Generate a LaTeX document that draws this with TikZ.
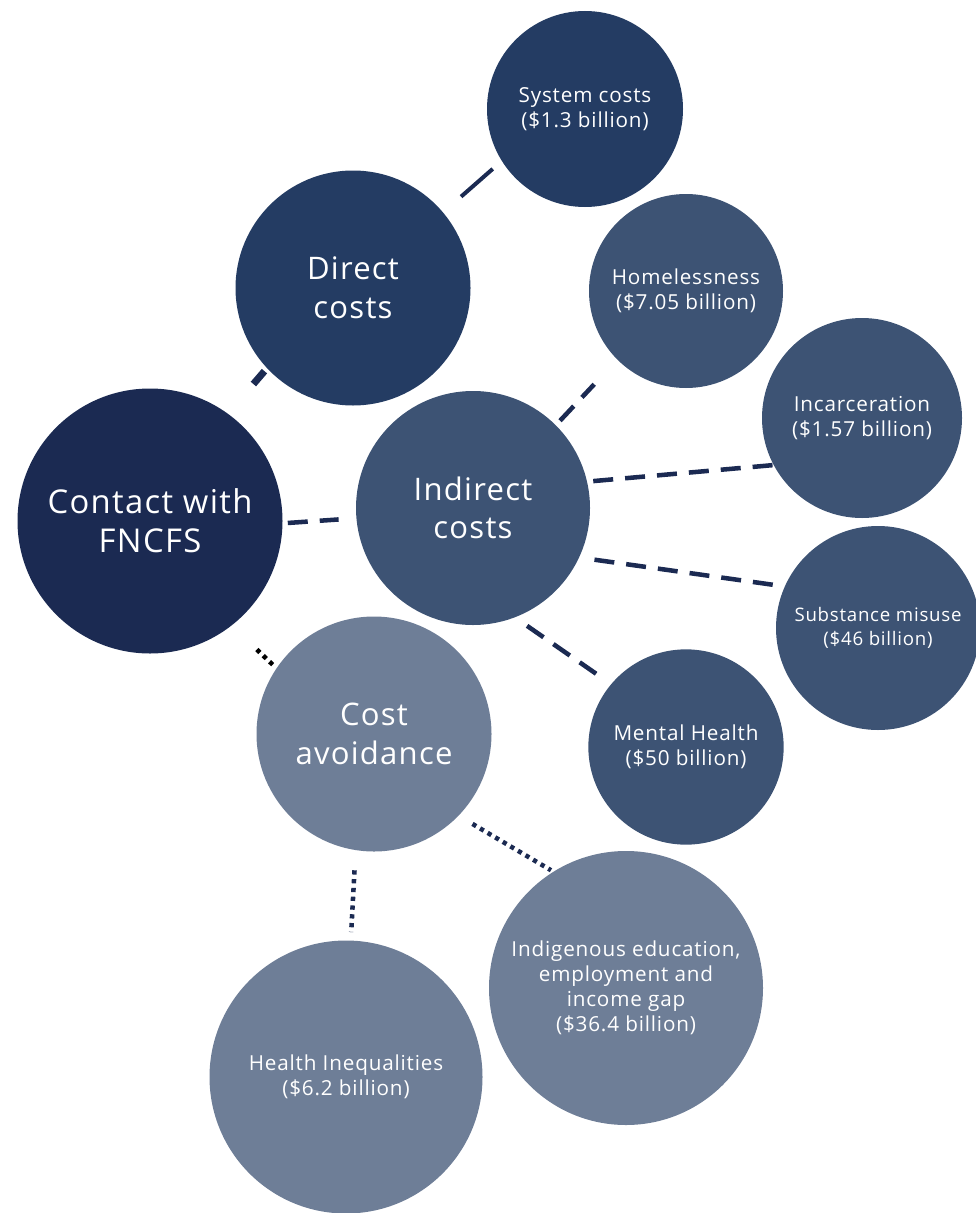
\documentclass[tikz,border=0pt]{standalone}
\usepackage{fontspec}
\setmainfont{Open Sans}[LetterSpace=4]
\definecolor{fncfsnavy}{RGB}{27, 42, 82}
\definecolor{directblue}{RGB}{36, 60, 99}
\definecolor{indirectblue}{RGB}{61, 83, 116}
\definecolor{avoidgrey}{RGB}{110, 126, 151}
\usetikzlibrary{positioning}

\tikzset{
  bubble/.style={circle, inner sep=0pt, text=white, align=center},
  bigtext/.style={font=\fontsize{23.3}{29}\selectfont},
  smalltext/.style={font=\fontsize{15.5}{18.75}\selectfont},
  solidlink/.style={draw=fncfsnavy, line width=3pt},
  dashlink/.style={draw=fncfsnavy, line width=3.4pt, dash pattern=on 15pt off 9pt},
  dotlink/.style={draw=fncfsnavy, line width=3.4pt, dash pattern=on 3.2pt off 3.4pt}
}

\begin{document}
\begin{tikzpicture}[x=0.75pt, y=-0.75pt]
  \useasboundingbox (0,0) rectangle (975,1213);

  \node[bubble, font=\fontsize{24.6}{29}\selectfont, fill=fncfsnavy, minimum size=198.75pt] (contact) at (150,521) {Contact with\\FNCFS};
  \node[bubble, bigtext, fill=directblue, minimum size=176.25pt] (direct) at (353,288) {Direct\\costs};
  \node[bubble, bigtext, fill=indirectblue, minimum size=175.5pt] (indirect) at (473,508) {Indirect\\costs};
  \node[bubble, bigtext, fill=avoidgrey, minimum size=176.25pt] (costav) at (374,734) {Cost\\avoidance};

  \node[bubble, smalltext, fill=directblue, minimum size=147pt] (system) at (585,109) {System costs\\(\$1.3 billion)};
  \node[bubble, smalltext, fill=indirectblue, minimum size=145.5pt] (homeless) at (686,291) {Homelessness\\(\$7.05 billion)};
  \node[bubble, smalltext, fill=indirectblue, minimum size=150pt] (incarc) at (862,418) {Incarceration\\(\$1.57 billion)};
  \node[bubble, font=\fontsize{14}{17.5}\selectfont, fill=indirectblue, minimum size=153pt] (substance) at (878,628) {Substance misuse\\(\$46 billion)};
  \node[bubble, smalltext, fill=indirectblue, minimum size=146.5pt] (mental) at (686,747) {Mental Health\\(\$50 billion)};
  \node[bubble, smalltext, fill=avoidgrey, minimum size=205.5pt] (indig) at (626,988) {Indigenous education,\\employment and\\income gap\\(\$36.4 billion)};
  \node[bubble, smalltext, fill=avoidgrey, minimum size=204.75pt] (health) at (346,1077) {Health Inequalities\\(\$6.2 billion)};

  % direct costs
  \draw[solidlink, shorten <=17.8pt, shorten >=8.9pt] (direct.40) -- (system.212);
  \draw[solidlink, line width=5.25pt, shorten <=29.2pt, shorten >=2.8pt] (contact.54) -- (direct.223);

  % indirect costs
  \draw[dashlink, shorten <=3.8pt, shorten >=13.2pt] (contact.-1) -- (indirect.185);
  \draw[dashlink, shorten <=4.5pt, shorten >=25.2pt] (indirect.45) -- (homeless.225);
  \draw[dashlink, shorten <=4.5pt] (indirect.13) -- (incarc.208);
  \draw[dashlink, shorten <=11.5pt, shorten >=7.5pt] (indirect.-25) -- (substance.156);
  \draw[dashlink, shorten <=11pt, shorten >=12.8pt] (indirect.-69) -- (mental.140);

  % cost avoidance
  \draw[dotlink, draw=black, shorten <=26pt, shorten >=3.2pt] (contact.-52) -- (costav.146);
  \draw[dotlink, shorten <=12pt, shorten >=2pt] (costav.-44) -- (indig.122);
  \draw[dotlink, shorten <=15pt, shorten >=6.2pt] (costav.-99) -- (health.88);
\end{tikzpicture}
\end{document}
